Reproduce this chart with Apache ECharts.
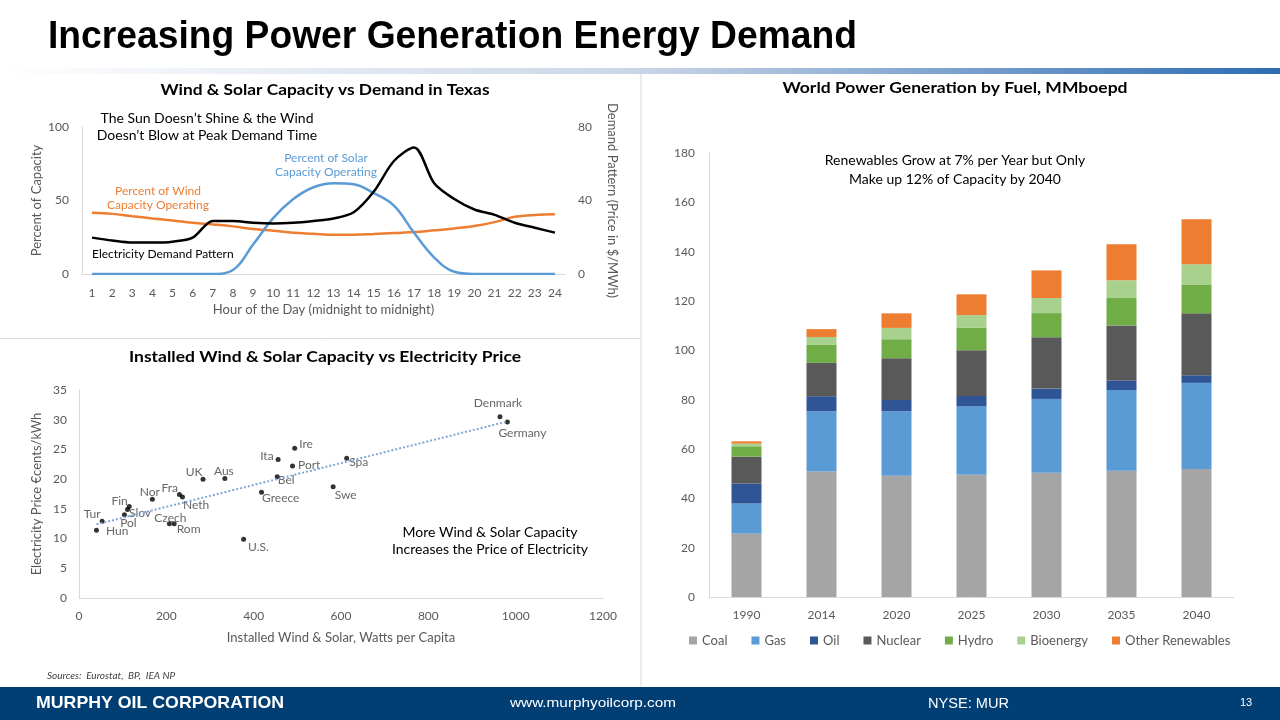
<!DOCTYPE html>
<html>
<head>
<meta charset="utf-8">
<script src="https://cdn.jsdelivr.net/npm/echarts@6/dist/echarts.min.js"></script>
<style>
  html, body { margin: 0; padding: 0; background: #ffffff; }
  #chart { width: 1280px; height: 720px; }
</style>
</head>
<body>
<div id="chart"></div>
<script>
// ---------- DATA ----------
// Chart 1: Wind & Solar Capacity vs Demand in Texas
const hours = ['1','2','3','4','5','6','7','8','9','10','11','12','13','14','15','16','17','18','19','20','21','22','23','24'];
const windPct = [41.6, 40.9, 39.3, 37.8, 36.4, 34.8, 33.7, 32.4, 30.6, 29.4, 28.1, 27.4, 26.7, 26.7, 27.2, 27.9, 28.5, 29.7, 31.0, 32.6, 35.3, 38.9, 40.2, 40.7];
const solarPct = [0, 0, 0, 0, 0, 0, 0, 2.7, 20, 38, 51, 59, 61.8, 61.1, 55, 46.5, 28, 11.2, 1.5, 0, 0, 0, 0, 0];
const demandPrice = [19.8, 18.2, 17.1, 17.1, 17.6, 19.8, 28.9, 28.9, 27.9, 27.5, 27.9, 28.9, 30.2, 33.6, 44.9, 61.5, 68.9, 49.4, 40.8, 35.1, 32.2, 27.9, 25.2, 22.5];

// Chart 2: Installed Wind & Solar Capacity vs Electricity Price
const countries = ['Denmark','Germany','Ire','Ita','Port','Spa','Bel','UK','Aus','Greece','Swe','Fra','Neth','Nor','Fin','Slov','Pol','Tur','Hun','Czech','Rom','U.S.'];
const wattsPerCapita = [964, 981, 494, 456, 489, 613, 454, 284, 334, 418, 582, 230, 237, 168, 115, 111, 104, 53, 40, 207, 218, 377];
const priceCents = [30.5, 29.6, 25.2, 23.3, 22.2, 23.5, 20.4, 20.0, 20.1, 17.8, 18.7, 17.4, 17.0, 16.6, 15.4, 14.9, 14.0, 12.9, 11.4, 12.5, 12.5, 9.9];
const trendX = [40, 981];
const trendY = [12.4, 29.7];

// Chart 3: World Power Generation by Fuel, MMboepd
const years = ['1990','2014','2020','2025','2030','2035','2040'];
const coal = [25.7, 50.9, 49.2, 49.6, 50.4, 51.2, 51.9];
const gas = [12.2, 24.4, 26.1, 27.7, 29.9, 32.7, 34.9];
const oil = [8.1, 6.1, 4.6, 4.2, 4.2, 3.9, 3.1];
const nuclear = [10.9, 13.5, 16.9, 18.5, 20.8, 22.3, 25.1];
const hydro = [4.2, 7.3, 7.7, 9.1, 9.8, 11.1, 11.5];
const bioenergy = [1.1, 3.2, 4.6, 5.2, 6.1, 7.2, 8.4];
const otherRenewables = [0.9, 3.2, 5.9, 8.4, 11.2, 14.6, 18.2];

// ---------- STYLE / LAYOUT ----------
const FONT = 'Lato, "Open Sans", sans-serif';
const AXIS_GREY = '#595959';
const LINE_GREY = '#D9D9D9';

// label placement per country: [position, dx, dy]
const labelPlace = {
  'Denmark': ['top', -2, 0], 'Germany': ['bottom', 15, -2], 'Ire': ['right', -3, -4],
  'Ita': ['left', 3, -3], 'Port': ['right', -2, -1], 'Spa': ['right', -5, 4],
  'Bel': ['right', -7, 3], 'UK': ['left', 7, -7], 'Aus': ['top', -1, 6],
  'Greece': ['right', -7, 6], 'Swe': ['right', -6, 8], 'Fra': ['left', 6, -6],
  'Neth': ['right', -7, 8], 'Nor': ['left', 15, -7], 'Fin': ['left', 6, -5],
  'Slov': ['right', -6, 4], 'Pol': ['bottom', 4, -5], 'Tur': ['left', 6, -7],
  'Hun': ['right', 2, 1], 'Czech': ['top', 1, 8], 'Rom': ['right', -5, 5],
  'U.S.': ['right', -3, 8]
};

const measureCtx = document.createElement('canvas').getContext('2d');
function fitScale(text, font, targetW) {
  measureCtx.font = font;
  return targetW / measureCtx.measureText(text).width;
}

function txt(text, x, y, opts) {
  opts = opts || {};
  const font = opts.font || ('13px ' + FONT);
  const el = {
    type: 'text', x: x, y: y, z: 100,
    style: {
      text: text, font: font, fill: opts.fill || '#000',
      align: opts.align || 'center', textAlign: opts.align || 'center',
      verticalAlign: 'middle', textVerticalAlign: 'middle'
    }
  };
  if (opts.width) { el.scaleX = fitScale(text, font, opts.width); }
  return el;
}

const scatterData = countries.map((c, i) => {
  const p = labelPlace[c];
  return {
    name: c,
    value: [wattsPerCapita[i], priceCents[i]],
    label: { show: true, formatter: c, position: p[0], offset: [p[1], p[2]], distance: 5,
             color: '#404040', fontSize: 12, fontFamily: FONT }
  };
});

const barColors = ['#A5A5A5', '#5B9BD5', '#2F5597', '#595959', '#70AD47', '#A9D18E', '#ED7D31'];
const barNames = ['Coal', 'Gas', 'Oil', 'Nuclear', 'Hydro', 'Bioenergy', 'Other Renewables'];
const barValues = [coal, gas, oil, nuclear, hydro, bioenergy, otherRenewables];

const axisLabel = { color: AXIS_GREY, fontSize: 12, fontFamily: FONT };
const axisName = { color: AXIS_GREY, fontSize: 13, fontFamily: FONT };

const option = {
  animation: false,
  textStyle: { fontFamily: FONT },
  grid: [
    { left: 82, top: 127, width: 483, height: 147 },
    { left: 79, top: 390, width: 524, height: 208 },
    { left: 709, top: 153, width: 525, height: 444 }
  ],
  xAxis: [
    { type: 'category', gridIndex: 0, data: hours, boundaryGap: true,
      axisLine: { lineStyle: { color: LINE_GREY } }, axisTick: { show: false },
      axisLabel: Object.assign({ margin: 13, interval: 0 }, axisLabel),
      name: 'Hour of the Day (midnight to midnight)', nameLocation: 'middle', nameGap: 29,
      nameTextStyle: axisName },
    { type: 'value', gridIndex: 1, min: 0, max: 1200, interval: 200,
      axisLine: { show: true, lineStyle: { color: LINE_GREY } }, axisTick: { show: false },
      splitLine: { show: false },
      axisLabel: Object.assign({ margin: 12, formatter: v => String(v) }, axisLabel),
      name: 'Installed Wind & Solar, Watts per Capita', nameLocation: 'middle', nameGap: 33,
      nameTextStyle: axisName },
    { type: 'category', gridIndex: 2, data: years,
      axisLine: { lineStyle: { color: LINE_GREY } }, axisTick: { show: false },
      axisLabel: Object.assign({ margin: 12 }, axisLabel) }
  ],
  yAxis: [
    { type: 'value', gridIndex: 0, min: 0, max: 100, interval: 50, position: 'left',
      axisLine: { show: true, lineStyle: { color: LINE_GREY } }, axisTick: { show: false },
      splitLine: { show: false }, axisLabel: Object.assign({ margin: 13 }, axisLabel),
      name: 'Percent of Capacity', nameLocation: 'middle', nameRotate: 90, nameGap: 39,
      nameTextStyle: axisName },
    { type: 'value', gridIndex: 0, min: 0, max: 80, interval: 40, position: 'right',
      axisLine: { show: false }, axisTick: { show: false },
      splitLine: { show: false }, axisLabel: Object.assign({ margin: 13 }, axisLabel),
      name: 'Demand Pattern (Price in $/MWh)', nameLocation: 'middle', nameRotate: -90, nameGap: 41,
      nameTextStyle: axisName },
    { type: 'value', gridIndex: 1, min: 0, max: 35, interval: 5,
      axisLine: { show: true, lineStyle: { color: LINE_GREY } }, axisTick: { show: false },
      splitLine: { show: false }, axisLabel: Object.assign({ margin: 12 }, axisLabel),
      name: 'Electricity Price €cents/kWh', nameLocation: 'middle', nameRotate: 90, nameGap: 36,
      nameTextStyle: axisName },
    { type: 'value', gridIndex: 2, min: 0, max: 180, interval: 20,
      axisLine: { show: true, lineStyle: { color: LINE_GREY } }, axisTick: { show: false },
      splitLine: { show: false }, axisLabel: Object.assign({ margin: 14 }, axisLabel) }
  ],
  legend: {
    data: barNames, left: 684, top: 629, itemWidth: 8, itemHeight: 8, itemGap: 24,
    icon: 'rect', textStyle: { color: AXIS_GREY, fontSize: 13, fontFamily: FONT }
  },
  series: [
    { name: 'Wind', type: 'line', xAxisIndex: 0, yAxisIndex: 0, data: windPct, smooth: 0.4,
      symbol: 'none', lineStyle: { color: '#ED7D31', width: 2.5 }, itemStyle: { color: '#ED7D31' } },
    { name: 'Solar', type: 'line', xAxisIndex: 0, yAxisIndex: 0, data: solarPct, smooth: 0.4,
      symbol: 'none', lineStyle: { color: '#5B9BD5', width: 2.5 }, itemStyle: { color: '#5B9BD5' } },
    { name: 'Demand', type: 'line', xAxisIndex: 0, yAxisIndex: 1, data: demandPrice, smooth: 0.3,
      symbol: 'none', lineStyle: { color: '#000000', width: 2.5 }, itemStyle: { color: '#000' } },
    { name: 'Trend', type: 'line', xAxisIndex: 1, yAxisIndex: 2,
      data: trendX.map((x, i) => [x, trendY[i]]), symbol: 'none',
      lineStyle: { color: '#7FA7D6', width: 2, type: 'dotted' } },
    { name: 'Countries', type: 'scatter', xAxisIndex: 1, yAxisIndex: 2, data: scatterData,
      symbolSize: 5, itemStyle: { color: '#000000' } }
  ].concat(barNames.map((n, i) => ({
    name: n, type: 'bar', xAxisIndex: 2, yAxisIndex: 3, stack: 'fuel', barWidth: 30,
    data: barValues[i], itemStyle: { color: barColors[i] }
  }))),
  graphic: [
    // header
    txt('Increasing Power Generation Energy Demand', 48, 38,
        { font: 'bold 38px "Liberation Sans", Arial, sans-serif', align: 'left', width: 809 }),
    { type: 'rect', shape: { x: 0, y: 68, width: 1280, height: 6 }, z: 1,
      style: { fill: new echarts.graphic.LinearGradient(0, 0, 1, 0, [
        { offset: 0, color: '#FFFFFF' }, { offset: 0.5, color: '#C9D5E7' }, { offset: 1, color: '#2C6CB3' }]) } },
    // dividers
    { type: 'line', shape: { x1: 641, y1: 74, x2: 641, y2: 688 }, style: { stroke: LINE_GREY, lineWidth: 1 } },
    { type: 'line', shape: { x1: 0, y1: 338.5, x2: 641, y2: 338.5 }, style: { stroke: LINE_GREY, lineWidth: 1 } },
    // chart titles
    txt('Wind & Solar Capacity vs Demand in Texas', 325, 90, { font: 'bold 16px ' + FONT, width: 329 }),
    txt('Installed Wind & Solar Capacity vs Electricity Price', 325, 357, { font: 'bold 16px ' + FONT, width: 392 }),
    txt('World Power Generation by Fuel, MMboepd', 955, 88, { font: 'bold 16px ' + FONT, width: 345 }),
    // chart 1 annotations
    txt('The Sun Doesn\u2019t Shine & the Wind', 207, 118, { font: '14px ' + FONT }),
    txt('Doesn\u2019t Blow at Peak Demand Time', 207, 135, { font: '14px ' + FONT }),
    txt('Percent of Solar', 326, 158, { font: '12px ' + FONT, fill: '#5B9BD5' }),
    txt('Capacity Operating', 326, 172, { font: '12px ' + FONT, fill: '#5B9BD5' }),
    txt('Percent of Wind', 158, 191, { font: '12px ' + FONT, fill: '#ED7D31' }),
    txt('Capacity Operating', 158, 205, { font: '12px ' + FONT, fill: '#ED7D31' }),
    txt('Electricity Demand Pattern', 92, 254, { font: '12px ' + FONT, align: 'left' }),
    // chart 2 annotation
    txt('More Wind & Solar Capacity', 490, 532, { font: '14px ' + FONT }),
    txt('Increases the Price of Electricity', 490, 549, { font: '14px ' + FONT }),
    // chart 3 annotation
    txt('Renewables Grow at 7% per Year but Only', 955, 160, { font: '14px ' + FONT }),
    txt('Make up 12% of Capacity by 2040', 955, 179, { font: '14px ' + FONT }),
    // sources
    txt('Sources:  Eurostat,  BP,  IEA NP', 47, 676, { font: 'italic 10px ' + FONT, align: 'left', fill: '#404040' }),
    // footer
    { type: 'rect', shape: { x: 0, y: 687, width: 1280, height: 33 }, z: 1, style: { fill: '#003E74' } },
    txt('MURPHY OIL CORPORATION', 36, 703, { font: 'bold 17px "Liberation Sans", Arial, sans-serif', align: 'left', fill: '#FFFFFF', width: 248 }),
    txt('www.murphyoilcorp.com', 510, 703, { font: '13px "Liberation Sans", Arial, sans-serif', align: 'left', fill: '#FFFFFF', width: 166 }),
    txt('NYSE: MUR', 928, 704, { font: '14px "Liberation Sans", Arial, sans-serif', align: 'left', fill: '#FFFFFF', width: 81 }),
    txt('13', 1246, 703, { font: '11px "Liberation Sans", Arial, sans-serif', fill: '#FFFFFF' })
  ]
};

const chart = echarts.init(document.getElementById('chart'), null, { renderer: 'canvas', width: 1280, height: 720 });
chart.setOption(option);
</script>
</body>
</html>
